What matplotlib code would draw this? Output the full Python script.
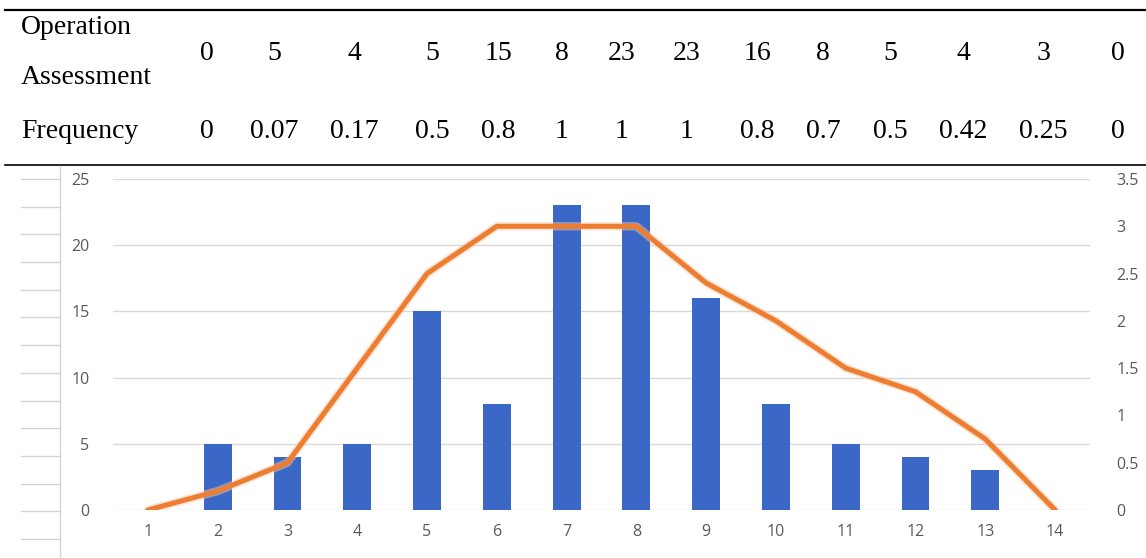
import numpy as np
import matplotlib.pyplot as plt
from matplotlib.lines import Line2D
import matplotlib.patheffects as pe

# table / chart data
categories = list(range(1, 15))
assessment = [0, 5, 4, 5, 15, 8, 23, 23, 16, 8, 5, 4, 3, 0]
frequency = ['0', '0.07', '0.17', '0.5', '0.8', '1', '1', '1', '0.8', '0.7', '0.5', '0.42', '0.25', '0']
curve = [0, 0.2, 0.5, 1.5, 2.5, 3, 3, 3, 2.4, 2.0, 1.5, 1.25, 0.75, 0]

left_ticks = [0, 5, 10, 15, 20, 25]
right_ticks = [0, 0.5, 1, 1.5, 2, 2.5, 3, 3.5]
right_labels = ['0', '0.5', '1', '1.5', '2', '2.5', '3', '3.5']

W, H = 1146, 558
fig = plt.figure(figsize=(W / 100, H / 100), dpi=100)

def fx(px):
    return px / W

def fy(py):
    return 1 - py / H

# ---- table on top ----
serif = 'Liberation Serif'
tsize = 20
col_x = [207, 274, 354, 432, 498, 562, 622, 687, 757, 823, 890, 963, 1043, 1118]
fig.add_artist(Line2D([fx(5), 1], [fy(10), fy(10)], color='black', lw=1.6))
fig.add_artist(Line2D([fx(5), 1], [fy(165), fy(165)], color='black', lw=1.2))
fig.text(fx(21), fy(28), 'Operation', family=serif, fontsize=tsize, va='center', ha='left')
fig.text(fx(21), fy(78), 'Assessment', family=serif, fontsize=tsize, va='center', ha='left')
fig.text(fx(21), fy(132), 'Frequency', family=serif, fontsize=tsize, va='center', ha='left')
for x, a, f in zip(col_x, assessment, frequency):
    fig.text(fx(x), fy(53), str(a), family=serif, fontsize=tsize, va='center', ha='center')
    fig.text(fx(x), fy(132), f, family=serif, fontsize=tsize, va='center', ha='center')

# spreadsheet row lines at the left edge
for y in np.arange(179, 545, 27.7):
    fig.add_artist(Line2D([fx(21), fx(60)], [fy(y), fy(y)], color='#d4d4d4', lw=1))
fig.add_artist(Line2D([fx(60), fx(60)], [fy(166), 0], color='#d4d4d4', lw=1))

# ---- combo chart ----
ax = fig.add_axes([fx(113), fy(510), fx(1090) - fx(113), fy(179) - fy(510)])
ax.bar(categories, assessment, width=0.4, color='#3b68c6', zorder=2)
ax.set_xlim(0.5, 14.5)
ax.set_ylim(0, 25)
ax.set_yticks(left_ticks)
ax.set_xticks(categories)
ax.grid(axis='y', color='#d9d9d9', lw=1, zorder=0)
for s in ax.spines.values():
    s.set_visible(False)
ax.tick_params(length=0, labelsize=11.5, labelcolor='#595959', pad=17)
ax.tick_params(axis='x', pad=10)

ax2 = ax.twinx()
ax2.plot(categories, curve, color='#ed7d31', lw=3.6, solid_joinstyle='round',
         solid_capstyle='round', zorder=3,
         path_effects=[pe.Stroke(linewidth=6, foreground='#f6c8a8', alpha=0.5), pe.Normal()])
ax2.set_ylim(0, 3.5)
ax2.set_yticks(right_ticks)
ax2.set_yticklabels(right_labels)
for s in ax2.spines.values():
    s.set_visible(False)
ax2.tick_params(length=0, labelsize=11.5, labelcolor='#595959', pad=19)

for lab in ax.get_xticklabels() + ax.get_yticklabels() + ax2.get_yticklabels():
    lab.set_family('Open Sans')

fig.savefig('out.png', dpi=100)
